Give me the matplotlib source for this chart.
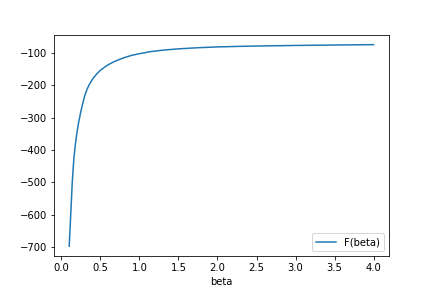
import numpy as np
import matplotlib
matplotlib.use("Agg")
import matplotlib.pyplot as plt

# values
beta = [0.10, 0.14, 0.16, 0.18, 0.20, 0.22, 0.25, 0.28, 0.30, 0.33,
        0.36, 0.40, 0.45, 0.50, 0.55, 0.60, 0.67, 0.75, 0.82, 0.90,
        1.00, 1.13, 1.30, 1.50, 1.75, 2.00, 2.25, 2.50, 3.00, 3.50, 4.00]
F_beta = [-697, -495, -425, -380, -345, -316, -280, -250, -232, -212,
          -197, -181, -166, -154, -145, -137, -128, -120, -114, -108,
          -103, -97, -92, -88, -84.5, -82, -80.5, -79.3, -77.5, -76.2, -75]

fig, ax = plt.subplots(figsize=(6, 4), dpi=72)
ax.plot(beta, F_beta, label='F(beta)')
ax.set_xlabel('beta')
ax.legend(loc='lower right')
plt.savefig('out.png', dpi=72)
plt.close()
